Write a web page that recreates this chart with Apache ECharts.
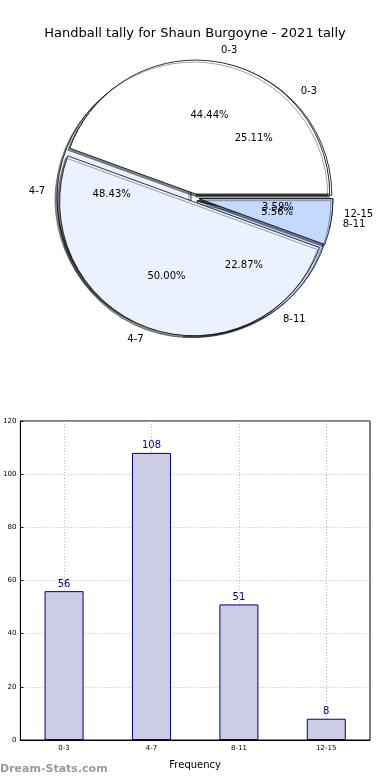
<!DOCTYPE html>
<html><head><meta charset="utf-8">
<script src="https://cdn.jsdelivr.net/npm/echarts@6/dist/echarts.min.js"></script>
<style>html,body{margin:0;padding:0;background:#fff}#c{width:390px;height:780px}</style>
</head><body><div id="c"></div>
<script>
const categories = ['0-3', '4-7', '8-11', '12-15'];
const careerCounts = [56, 108, 51, 8];
const seasonPercents = [44.44, 50.00, 5.56, 0];
const yTicks = [0, 20, 40, 60, 80, 100, 120];
const sliceColors = ['#ffffff', '#ebf1ff', '#c5d9ff', '#dae6ff'];
const titleText = 'Handball tally for Shaun Burgoyne - 2021 tally';

const FONT = 'DejaVu Sans';
const CX = 195, CY = 198, R = 134;

function pieData(vals) {
  return categories.map((c, i) => ({ name: c, value: vals[i], selected: true,
    itemStyle: { color: sliceColors[i] } })).filter(d => d.value > 0);
}
function labelData(vals) {
  return categories.map((c, i) => ({ name: c, value: vals[i] })).filter(d => d.value > 0);
}
function mainPie(vals, z) {
  return {
    type: 'pie', center: [CX, CY], radius: R, startAngle: 0, clockwise: false, z: z,
    selectedMode: 'multiple', selectedOffset: 4, avoidLabelOverlap: false,
    labelLayout: { hideOverlap: false },
    animation: false, silent: true,
    itemStyle: { borderColor: '#000', borderWidth: 0.8, shadowColor: 'rgba(0,0,0,0.45)', shadowBlur: 0, shadowOffsetX: -2, shadowOffsetY: 2 },
    label: { show: true, position: 'outside', distanceToLabelLine: 0, color: '#000', fontFamily: FONT, fontSize: 10, formatter: '{b}' },
    labelLine: { show: false, length: 12, length2: 0 },
    emphasis: { disabled: true },
    data: pieData(vals)
  };
}
function pctPie(vals, z) {
  return {
    type: 'pie', center: [CX, CY], radius: 1.2 * R, startAngle: 0, clockwise: false, z: z,
    avoidLabelOverlap: false, animation: false, silent: true,
    labelLayout: { hideOverlap: false },
    itemStyle: { color: 'rgba(0,0,0,0)', borderWidth: 0 },
    label: { show: true, position: 'inside', color: '#000', fontFamily: FONT, fontSize: 10,
      formatter: p => p.percent.toFixed(2) + '%' },
    labelLine: { show: false },
    emphasis: { disabled: true },
    data: labelData(vals)
  };
}

const chart = echarts.init(document.getElementById('c'), null, { renderer: 'canvas' });
chart.setOption({
  backgroundColor: '#fff',
  animation: false,
  title: { text: titleText, left: 'center', top: 22, textStyle: { fontFamily: FONT, fontSize: 13, fontWeight: 'normal', color: '#000' } },
  grid: { left: 19, right: 20, top: 421, bottom: 40, show: true, borderColor: '#000', borderWidth: 1, backgroundColor: 'transparent' },
  xAxis: {
    type: 'category', data: categories, boundaryGap: true,
    name: 'Frequency', nameLocation: 'middle', nameGap: 20,
    nameTextStyle: { fontFamily: FONT, fontSize: 10, color: '#000' },
    axisLine: { lineStyle: { color: '#000' } },
    axisTick: { show: true, alignWithLabel: true, inside: true, length: 3, lineStyle: { color: '#000' } },
    axisLabel: { fontFamily: FONT, fontSize: 7, color: '#000', margin: 5 },
    splitLine: { show: true, alignWithLabel: true, lineStyle: { color: '#bbb', type: [1, 2], width: 1 } }
  },
  yAxis: {
    type: 'value', min: 0, max: 120, interval: 20,
    axisLine: { show: true, lineStyle: { color: '#000' } },
    axisTick: { show: true, inside: true, length: 3, lineStyle: { color: '#000' } },
    axisLabel: { fontFamily: FONT, fontSize: 7, color: '#000', margin: 4,
      formatter: v => yTicks.includes(v) ? String(v) : '' },
    splitLine: { show: true, lineStyle: { color: '#bbb', type: [1, 2], width: 1 } }
  },
  graphic: [{ type: 'text', left: 0, top: 764, silent: true,
    style: { text: 'Dream-Stats.com', fill: '#9a9a9a', font: 'bold 11px "DejaVu Sans"' } }],
  series: [
    mainPie(careerCounts, 1),
    mainPie(seasonPercents, 2),
    pctPie(careerCounts, 3),
    pctPie(seasonPercents, 4),
    {
      type: 'bar', data: careerCounts, barWidth: 39,
      itemStyle: { color: '#ccccE5', borderColor: '#000080', borderWidth: 1 },
      label: { show: true, position: 'top', distance: 2, color: '#000080', fontFamily: FONT, fontSize: 10 },
      z: 1
    }
  ]
});
</script></body></html>
